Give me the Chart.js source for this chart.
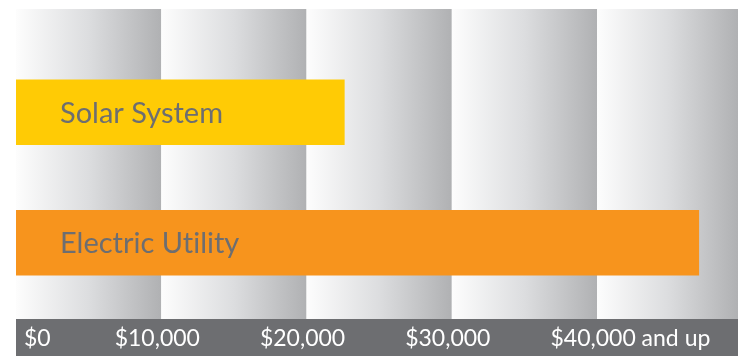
<!DOCTYPE html>
<html>
<head>
<meta charset="utf-8">
<script src="https://cdn.jsdelivr.net/npm/chart.js@4/dist/chart.umd.min.js"></script>
<style>
  html, body { margin: 0; padding: 0; background: #fff; }
  canvas { display: block; }
</style>
</head>
<body>
<canvas id="chart" width="738" height="356"></canvas>
<script>
const categories = ["Solar System", "Electric Utility"];
const costs = [22600, 47000];
const barColors = ["#FFCB05", "#F7941D"];
const tickValues = [0, 10000, 20000, 30000, 40000];
const tickLabels = ["$0", "$10,000", "$20,000", "$30,000", "$40,000 and up"];

const BAND_H = 37;
const TOP = 9;

// gradient columns behind the bars + grey axis band
const backdrop = {
  id: "backdrop",
  beforeDraw(chart) {
    const { ctx, chartArea, scales } = chart;
    const x = scales.x;
    const bottom = chart.height - BAND_H;
    ctx.save();
    tickValues.forEach((v) => {
      const x0 = x.getPixelForValue(v);
      const x1 = Math.min(x.getPixelForValue(v + 10000), chartArea.right);
      const g = ctx.createLinearGradient(x0, 0, x1, 0);
      g.addColorStop(0, "#fdfdfd");
      g.addColorStop(0.5, "#dcdddf");
      g.addColorStop(1, "#b0b1b3");
      ctx.fillStyle = g;
      ctx.fillRect(x0, TOP, x1 - x0, bottom - TOP);
    });
    ctx.fillStyle = "#6d6e71";
    ctx.fillRect(chartArea.left, bottom, chartArea.right - chartArea.left, BAND_H);
    ctx.restore();
  },
  afterDraw(chart) {
    const { ctx, scales } = chart;
    const x = scales.x;
    const mid = chart.height - BAND_H / 2 + 1;
    ctx.save();
    ctx.fillStyle = "#ffffff";
    ctx.font = "23px Lato";
    ctx.textBaseline = "middle";
    tickValues.forEach((v, i) => {
      const px = x.getPixelForValue(v);
      const label = tickLabels[i];
      ctx.textAlign = "left";
      if (i === 0) {
        ctx.fillText(label, px + 8, mid);
      } else {
        const head = label.split(" ")[0];
        const w = ctx.measureText(head).width;
        ctx.fillText(label, px - w / 2 - 4, mid);
      }
    });
    ctx.restore();
  }
};

// category names inside the bars
const barNames = {
  id: "barNames",
  afterDatasetsDraw(chart) {
    const { ctx } = chart;
    const meta = chart.getDatasetMeta(0);
    ctx.save();
    ctx.fillStyle = "#6d6e71";
    ctx.font = "29px Lato";
    ctx.textAlign = "left";
    ctx.textBaseline = "middle";
    meta.data.forEach((bar, i) => {
      // zero-width non-joiner keeps Lato from using its "ti" ligature
      const name = categories[i].replace(/ti/g, "t\u200Ci");
      ctx.fillText(name, bar.base + 44, bar.y + 1);
    });
    ctx.restore();
  }
};

new Chart(document.getElementById("chart"), {
  type: "bar",
  data: {
    labels: categories,
    datasets: [{
      data: costs,
      backgroundColor: barColors,
      borderWidth: 0,
      barThickness: 65
    }]
  },
  options: {
    indexAxis: "y",
    responsive: false,
    animation: false,
    layout: { padding: { left: 16, top: 47, right: 0, bottom: 0 } },
    plugins: { legend: { display: false }, tooltip: { enabled: false } },
    scales: {
      x: {
        min: 0,
        max: 49700,
        grid: { display: false },
        border: { display: false },
        ticks: { display: false, stepSize: 10000 },
        afterFit(scale) { scale.height = 48; }
      },
      y: {
        display: false
      }
    }
  },
  plugins: [backdrop, barNames]
});
</script>
</body>
</html>
